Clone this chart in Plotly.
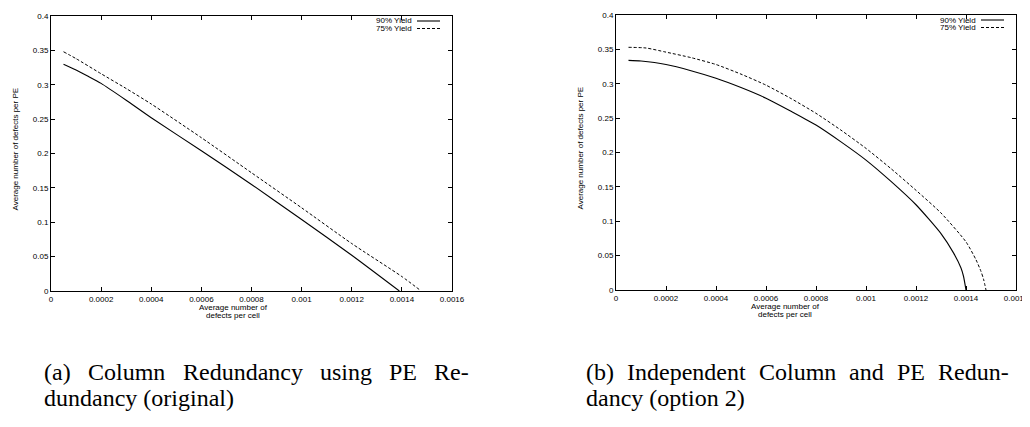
import plotly.graph_objects as go

# screen size; the page body adds an 8px margin, so the figure is drawn 8px in from the corner
SCREEN_W, SCREEN_H = 1030, 427
OFF = 8
W, H = SCREEN_W - OFF, SCREEN_H - OFF

# ---- data ----
x_ticks = [0, 0.0002, 0.0004, 0.0006, 0.0008, 0.001, 0.0012, 0.0014, 0.0016]
x_tick_labels = ["0", "0.0002", "0.0004", "0.0006", "0.0008", "0.001", "0.0012", "0.0014", "0.0016"]
y_ticks = [0, 0.05, 0.1, 0.15, 0.2, 0.25, 0.3, 0.35, 0.4]
y_tick_labels = ["0", "0.05", "0.1", "0.15", "0.2", "0.25", "0.3", "0.35", "0.4"]

# (a) Column Redundancy using PE Redundancy (original)
a_x90 = [0.00005, 0.0001, 0.00015, 0.0002, 0.0003, 0.0004, 0.0006, 0.0008, 0.001, 0.0012, 0.00139]
a_y90 = [0.330, 0.3215, 0.312, 0.302, 0.2775, 0.252, 0.204, 0.155, 0.104, 0.052, 0.0]
a_x75 = [0.00005, 0.0001, 0.0002, 0.0003, 0.0004, 0.0006, 0.0008, 0.001, 0.0012, 0.0014, 0.00147]
a_y75 = [0.348, 0.338, 0.316, 0.2945, 0.272, 0.223, 0.172, 0.121, 0.069, 0.021, 0.002]

# (b) Independent Column and PE Redundancy (option 2)
b_x90 = [0.00005, 0.0001, 0.0002, 0.0003, 0.0004, 0.0005, 0.0006, 0.0007, 0.0008,
         0.0009, 0.001, 0.0011, 0.0012, 0.0013, 0.00135, 0.00138, 0.00139, 0.0014]
b_y90 = [0.334, 0.333, 0.328, 0.319, 0.308, 0.2945, 0.279, 0.260, 0.240,
         0.2155, 0.189, 0.158, 0.124, 0.082, 0.054, 0.032, 0.020, 0.0]
b_x75 = [0.00005, 0.00012, 0.0002, 0.0003, 0.0004, 0.0005, 0.0006, 0.0007, 0.0008,
         0.0009, 0.001, 0.0011, 0.0012, 0.0013, 0.0014, 0.00144, 0.00146, 0.00147, 0.00148]
b_y75 = [0.353, 0.352, 0.346, 0.338, 0.328, 0.314, 0.298, 0.2785, 0.257,
         0.2325, 0.206, 0.1765, 0.145, 0.112, 0.070, 0.044, 0.027, 0.016, 0.0]

series_names = ["90% Yield", "75% Yield"]
x_title_lines = ["Average number of", "defects per cell"]
y_title = "Average number of defects per PE"
caption_a = [["(a)", "Column", "Redundancy", "using", "PE", "Re-"], "dundancy (original)"]
caption_b = [["(b)", "Independent", "Column", "and", "PE", "Redun-"], "dancy (option 2)"]

# ---- layout helpers (screen pixels -> paper fractions) ----
def px(x):
    return (x - OFF) / W

def py(y):
    return 1 - (y - OFF) / H

SANS = "Liberation Sans"
SERIF = "Liberation Serif"
DASH = "3px,2px"
CAP_SIZE = 24

# approximate Times (Liberation Serif) advance widths in em, for justifying caption line 1
TIMES_W = {"(": .333, ")": .333, "-": .333, "a": .444, "b": .5, "c": .444, "d": .5, "e": .444,
           "g": .5, "i": .278, "l": .278, "m": .778, "n": .5, "o": .5, "p": .5, "s": .389,
           "t": .278, "u": .5, "y": .5, "C": .667, "E": .611, "I": .333, "P": .556, "R": .667}

def word_w(word):
    return sum(TIMES_W.get(ch, .5) for ch in word) * CAP_SIZE

def justify(words, x0, x1):
    widths = [word_w(w) for w in words]
    gap = (x1 - x0 - sum(widths)) / (len(words) - 1)
    pos, cur = [], x0
    for w in widths:
        pos.append(cur)
        cur += w + gap
    return pos

fig = go.Figure()
fig.add_trace(go.Scatter(x=a_x90, y=a_y90, mode="lines", name=series_names[0],
                         line=dict(color="black", width=1.1, shape="spline", smoothing=0.6),
                         xaxis="x", yaxis="y", showlegend=False))
fig.add_trace(go.Scatter(x=a_x75, y=a_y75, mode="lines", name=series_names[1],
                         line=dict(color="black", width=1, dash=DASH, shape="spline", smoothing=0.6),
                         xaxis="x", yaxis="y", showlegend=False))
fig.add_trace(go.Scatter(x=b_x90, y=b_y90, mode="lines", name=series_names[0],
                         line=dict(color="black", width=1.1, shape="spline", smoothing=0.6),
                         xaxis="x2", yaxis="y2", showlegend=False))
fig.add_trace(go.Scatter(x=b_x75, y=b_y75, mode="lines", name=series_names[1],
                         line=dict(color="black", width=1, dash=DASH, shape="spline", smoothing=0.6),
                         xaxis="x2", yaxis="y2", showlegend=False))

panels = [
    dict(left=51, right=452, top=16, bottom=291, ytitle_x=15, xtitle_cx=233),
    dict(left=616, right=1016, top=15, bottom=290, ytitle_x=580, xtitle_cx=785),
]

axis_common = dict(showline=True, linecolor="black", linewidth=1, mirror="allticks",
                   ticks="inside", ticklen=4, tickcolor="black", tickwidth=1,
                   showgrid=False, zeroline=False, automargin=False,
                   tickfont=dict(family=SANS, size=8, color="black"))

layout_axes = {}
for i, p in enumerate(panels):
    sfx = "" if i == 0 else str(i + 1)
    layout_axes["xaxis" + sfx] = dict(axis_common, domain=[px(p["left"]), px(p["right"])],
                                      range=[0, 0.0016], tickvals=x_ticks, ticktext=x_tick_labels,
                                      anchor="y" + sfx)
    layout_axes["yaxis" + sfx] = dict(axis_common, domain=[py(p["bottom"]), py(p["top"])],
                                      range=[0, 0.4], tickvals=y_ticks, ticktext=y_tick_labels,
                                      anchor="x" + sfx)

annotations = []
shapes = []
for i, p in enumerate(panels):
    cy = (p["top"] + p["bottom"]) / 2 - 4
    annotations.append(dict(x=px(p["ytitle_x"]), y=py(cy), xref="paper", yref="paper",
                            text=y_title, textangle=-90, showarrow=False,
                            font=dict(family=SANS, size=8, color="black"),
                            xanchor="center", yanchor="middle"))
    for k, line in enumerate(x_title_lines):
        annotations.append(dict(x=px(p["xtitle_cx"]), y=py(p["bottom"] + 16 + 8 * k),
                                xref="paper", yref="paper", text=line, showarrow=False,
                                font=dict(family=SANS, size=8, color="black"),
                                xanchor="center", yanchor="middle"))
    # legend (text, then line sample to its right, gnuplot style)
    for k, name in enumerate(series_names):
        ly = p["top"] + 5 + 7.5 * k
        annotations.append(dict(x=px(p["right"] - 38), y=py(ly), xref="paper", yref="paper",
                                text=name, showarrow=False,
                                font=dict(family=SANS, size=8, color="black"),
                                xanchor="right", yanchor="middle"))
        shapes.append(dict(type="line", xref="paper", yref="paper",
                           x0=px(p["right"] - 35), x1=px(p["right"] - 12),
                           y0=py(ly), y1=py(ly),
                           line=dict(color="black", width=1 if k else 1.1,
                                     dash=None if k == 0 else DASH)))

# captions: justified first line, ragged second line
cap_extent = [(42, 467), (584, 1007)]
for cap, (x0, x1) in zip([caption_a, caption_b], cap_extent):
    for word, xw in zip(cap[0], justify(cap[0], x0, x1)):
        annotations.append(dict(x=px(xw), y=py(372), xref="paper", yref="paper", text=word,
                                showarrow=False, font=dict(family=SERIF, size=CAP_SIZE, color="black"),
                                xanchor="left", yanchor="middle"))
    annotations.append(dict(x=px(x0), y=py(398), xref="paper", yref="paper", text=cap[1],
                            showarrow=False, font=dict(family=SERIF, size=CAP_SIZE, color="black"),
                            xanchor="left", yanchor="middle"))

fig.update_layout(width=W, height=H,
                  margin=dict(l=0, r=0, t=0, b=0, pad=0, autoexpand=False),
                  paper_bgcolor="white", plot_bgcolor="white",
                  annotations=annotations, shapes=shapes, **layout_axes)

fig.write_html("out.html")
